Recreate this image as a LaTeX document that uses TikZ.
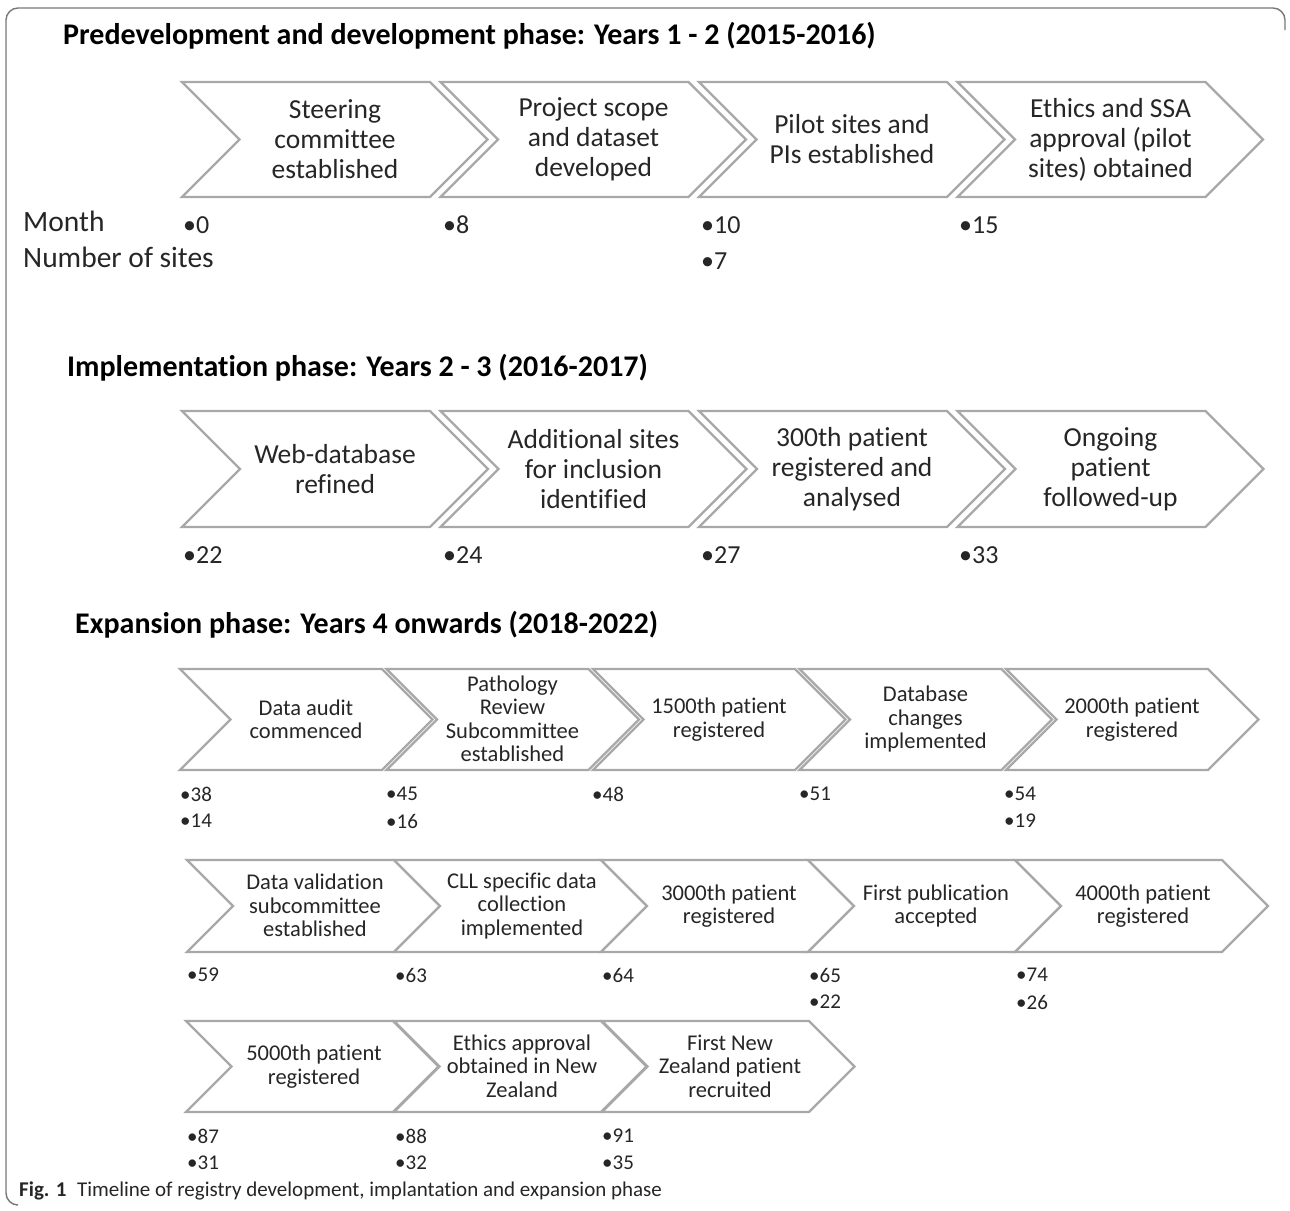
\documentclass[tikz,border=0pt]{standalone}
\usepackage{fontspec}
\setmainfont[Ligatures=NoCommon]{Carlito}
\definecolor{chevgray}{RGB}{168,168,168}
\definecolor{framegray}{RGB}{120,120,120}
\definecolor{txt}{RGB}{38,38,38}
\newcommand\chev[4]{% left, top, bottom, body width
  \pgfmathsetmacro\chM{(#2+#3)/2}\pgfmathsetmacro\chD{(#3-#2)/2}
  \draw[chev] (#1,#2) -- ({#1+#4},#2) -- ({#1+#4+\chD},\chM) -- ({#1+#4},#3) -- (#1,#3) -- ({#1+\chD},\chM) -- cycle;}
\tikzset{
  chev/.style={draw=chevgray, line width=2.4pt, line join=miter, fill=white},
  frame/.style={draw=framegray, line width=1.4pt, rounded corners=12pt},
  title/.style={anchor=west, inner sep=0pt, font=\fontsize{30}{34}\selectfont\bfseries, text=black},
  biglbl/.style={align=center, inner sep=0pt, font=\fontsize{27.5}{30}\selectfont, text=txt},
  smalllbl/.style={align=center, inner sep=0pt, font=\fontsize{22.5}{23.5}\selectfont, text=txt},
  bignum/.style={anchor=west, inner sep=0pt, font=\fontsize{26}{28}\selectfont, text=txt},
  smallnum/.style={anchor=west, inner sep=0pt, font=\fontsize{21}{24}\selectfont, text=txt},
  axis/.style={anchor=west, inner sep=0pt, font=\fontsize{29.5}{32}\selectfont, text=txt},
  caption/.style={anchor=west, inner sep=0pt, font=\fontsize{21}{24}\selectfont, text=txt}
}
\begin{document}
\begin{tikzpicture}[x=1pt,y=-1pt]
\useasboundingbox (0,0) rectangle (1290,1210);
% frame
\draw[frame] (1285,30) -- (1285,8) -- (6,8) -- (6,1205) -- (16,1205);

% ---------- Phase 1 ----------
\node[title] (t1) at (63,36) {Predevelopment and development phase: Years 1 - 2 (2015-2016)};
\chev{182}{82}{197}{248}
\chev{440.5}{82}{197}{248}
\chev{699}{82}{197}{248}
\chev{957.5}{82}{197}{248}
\node[biglbl] (a1) at (335,139.5) {Steering\\committee\\established};
\node[biglbl] (a2) at (593.5,139.5) {Project scope\\and dataset\\developed};
\node[biglbl] (a3) at (852,139.5) {Pilot sites and\\PIs established};
\node[biglbl] (a4) at (1110.5,139.5) {Ethics and SSA\\approval (pilot\\sites) obtained};
\node[axis] (month) at (23,221) {Month};
\node[axis] (nsites) at (23,257) {Number of sites};
\node[bignum] (a1m) at (183,225) {•0};
\node[bignum] (a2m) at (443,225) {•8};
\node[bignum] (a3m) at (701,225) {•10};
\node[bignum] (a3s) at (701,261) {•7};
\node[bignum] (a4m) at (959,225) {•15};

% ---------- Phase 2 ----------
\node[title] (t2) at (67,368) {Implementation phase: Years 2 - 3 (2016-2017)};
\chev{182}{411}{527}{248}
\chev{440.5}{411}{527}{248}
\chev{699}{411}{527}{248}
\chev{957.5}{411}{527}{248}
\node[biglbl] (b1) at (335,469) {Web-database\\refined};
\node[biglbl] (b2) at (593.5,469) {Additional sites\\for inclusion\\identified};
\node[biglbl] (b3) at (852,469) {300th patient\\registered and\\analysed};
\node[biglbl] (b4) at (1110.5,469) {Ongoing\\patient\\followed-up};
\node[bignum] (b1m) at (183,555) {•22};
\node[bignum] (b2m) at (443,555) {•24};
\node[bignum] (b3m) at (701,555) {•27};
\node[bignum] (b4m) at (959,555) {•33};

% ---------- Phase 3 ----------
\node[title] (t3) at (75,625) {Expansion phase: Years 4 onwards (2018-2022)};
% row a
\chev{180}{669}{770}{202}
\chev{386.5}{669}{770}{202}
\chev{593}{669}{770}{202}
\chev{799.5}{669}{770}{202}
\chev{1006}{669}{770}{202}
\node[smalllbl] (c1) at (306,719.5) {Data audit\\commenced};
\node[smalllbl] (c2) at (512.5,719) {Pathology\\Review\\Subcommittee\\established};
\node[smalllbl] (c3) at (719,719.5) {1500th patient\\registered};
\node[smalllbl] (c4) at (925.5,719) {Database\\changes\\implemented};
\node[smalllbl] (c5) at (1132,719.5) {2000th patient\\registered};
\node[smallnum] (c1m) at (180,794) {•38};
\node[smallnum] (c1s) at (180,821) {•14};
\node[smallnum] (c2m) at (386,794) {•45};
\node[smallnum] (c2s) at (386,821) {•16};
\node[smallnum] (c3m) at (592,794) {•48};
\node[smallnum] (c4m) at (799,794) {•51};
\node[smallnum] (c5m) at (1004,794) {•54};
\node[smallnum] (c5s) at (1004,821) {•19};
% row b
\chev{187}{860}{952}{207}
\chev{394}{860}{952}{207}
\chev{601}{860}{952}{207}
\chev{808}{860}{952}{207}
\chev{1015}{860}{952}{207}
\node[smalllbl] (d1) at (315,905.5) {Data validation\\subcommittee\\established};
\node[smalllbl] (d2) at (522,905.5) {CLL specific data\\collection\\implemented};
\node[smalllbl] (d3) at (729,906) {3000th patient\\registered};
\node[smalllbl] (d4) at (936,906) {First publication\\accepted};
\node[smalllbl] (d5) at (1143,906) {4000th patient\\registered};
\node[smallnum] (d1m) at (187,975) {•59};
\node[smallnum] (d2m) at (395,975) {•63};
\node[smallnum] (d3m) at (602,975) {•64};
\node[smallnum] (d4m) at (809,975) {•65};
\node[smallnum] (d4s) at (809,1002) {•22};
\node[smallnum] (d5m) at (1016,975) {•74};
\node[smallnum] (d5s) at (1016,1002) {•26};
% row c
\chev{186}{1021}{1112}{207}
\chev{394}{1021}{1112}{207}
\chev{602}{1021}{1112}{207}
\node[smalllbl] (e1) at (314,1066.5) {5000th patient\\registered};
\node[smalllbl] (e2) at (522,1066) {Ethics approval\\obtained in New\\Zealand};
\node[smalllbl] (e3) at (730,1066) {First New\\Zealand patient\\recruited};
\node[smallnum] (e1m) at (187,1136) {•87};
\node[smallnum] (e1s) at (187,1163) {•31};
\node[smallnum] (e2m) at (395,1136) {•88};
\node[smallnum] (e2s) at (395,1163) {•32};
\node[smallnum] (e3m) at (602,1136) {•91};
\node[smallnum] (e3s) at (602,1163) {•35};

% caption
\node[caption] (cap) at (19,1191) {\textbf{Fig. 1}\hspace{0.5em}Timeline of registry development, implantation and expansion phase};
\end{tikzpicture}
\end{document}
